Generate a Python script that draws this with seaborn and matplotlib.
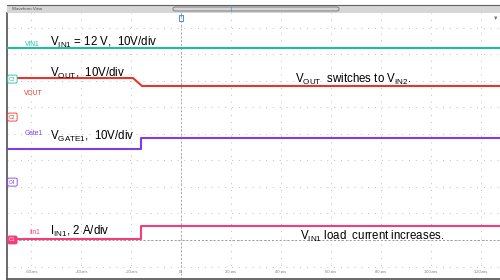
import matplotlib
matplotlib.use("Agg")
import matplotlib.pyplot as plt
import matplotlib.transforms as mtransforms
from matplotlib.patches import Rectangle, FancyBboxPatch
import seaborn as sns
import pandas as pd

# ---------------- data (time in ms, value in screen divisions) ----------------
vin1_t = [-69.6, 127.6]
vin1_v = [7.23, 7.23]

vout_t = [-69.6, -19.2, -15.6, 127.6]
vout_v = [6.10, 6.10, 5.80, 5.80]

gate1_t = [-69.6, -15.8, -15.8, 127.6]
gate1_v = [3.43, 3.43, 3.84, 3.84]

iin1_t = [-69.6, -15.8, -15.8, 127.6]
iin1_v = [0.02, 0.02, 0.53, 0.53]

x_ticks = [-60, -40, -20, 0, 20, 40, 60, 80, 100, 120]
x_tick_labels = ["-60 ms", "-40 ms", "-20 ms", "0s", "20 ms", "40 ms",
                 "60 ms", "80 ms", "100 ms", "120 ms"]
y_divs = [-1, 0, 1, 2, 3, 4, 5, 6, 7, 8]

channels = ["VIN1", "VOUT", "Gate1", "Iin1"]
colors = ["#1dbf9c", "#e8332e", "#7b3fe4", "#f03f7c"]

frames = []
for name, t, v in zip(channels, [vin1_t, vout_t, gate1_t, iin1_t],
                      [vin1_v, vout_v, gate1_v, iin1_v]):
    frames.append(pd.DataFrame({"t": t, "v": v, "ch": name}))
df = pd.concat(frames, ignore_index=True)

# ---------------- figure ----------------
sns.set_theme(style="white")
plt.rcParams["font.family"] = ["Liberation Sans", "DejaVu Sans"]
plt.rcParams["mathtext.fontset"] = "custom"
plt.rcParams["mathtext.rm"] = "Liberation Sans"

W, H = 500, 280
fig = plt.figure(figsize=(5, 2.8), dpi=100)
fig.patch.set_facecolor("white")
ax = fig.add_axes([7 / W, 1 - 279 / H, 493 / W, 266 / H])
ax.set_facecolor("white")

# grid
ax.set_xticks(x_ticks)
ax.set_yticks(y_divs)
ax.grid(True, which="major", color="#bdbdbd", linestyle=(0, (1, 6)), linewidth=0.7)
ax.tick_params(length=0, labelbottom=False, labelleft=False)

# zero-time dashed line and Iin1 reference line
ax.axvline(0, color="#a8a8a8", linestyle=(0, (2, 2)), linewidth=0.7, zorder=1)
ax.axhline(0, color="#9a9a9a", linestyle=(0, (2, 2)), linewidth=0.7, zorder=1)

sns.lineplot(data=df, x="t", y="v", hue="ch",
             palette=dict(zip(channels, colors)), sort=False, estimator=None,
             linewidth=1.5, legend=False, ax=ax, zorder=3)

ax.set_xlim(-69.6, 127.6)
ax.set_ylim(-1.47, 8.55)
ax.set_xlabel("")
ax.set_ylabel("")

for s in ["top", "right"]:
    ax.spines[s].set_visible(False)
for s in ["left", "bottom"]:
    ax.spines[s].set_color("#505050")
    ax.spines[s].set_linewidth(1.2)

# x tick labels inside the plot
tb = mtransforms.blended_transform_factory(ax.transData, ax.transAxes)
for xt, lab in zip(x_ticks, x_tick_labels):
    ax.text(xt, 0.02, lab, transform=tb, ha="center", va="bottom",
            fontsize=3, color="#808080")

# channel small labels
ty = mtransforms.blended_transform_factory(ax.transAxes, ax.transData)
ax.text(0.036, 7.38, "VIN1", transform=ty, fontsize=4.8, color=colors[0], va="center")
ax.text(0.034, 5.53, "VOUT", transform=ty, fontsize=4.8, color=colors[1], va="center")
ax.text(0.036, 4.0, "Gate1", transform=ty, fontsize=4.8, color=colors[2], va="center")
ax.text(0.046, 0.28, "Iin1", transform=ty, fontsize=4.8, color=colors[3], va="center")

# channel markers
marker_specs = [("C3", 6.06, colors[0], "white"),
                ("C2", 4.63, colors[1], "white"),
                ("C4", 2.18, colors[2], "white"),
                ("C1", 0.0, colors[3], colors[3])]
for lab, yv, ec, fc in marker_specs:
    ax.text(0.011, yv, lab, transform=ty, fontsize=3.6, ha="center", va="center",
            color=("white" if fc != "white" else ec),
            bbox=dict(boxstyle="round,pad=0.3", fc=fc, ec=ec, lw=0.6), zorder=5)

# annotations
ann = dict(fontsize=8.3, color="black", va="baseline", ha="left")
ax.text(-52.4, (240 - 46) / 26.55, r"$\mathregular{V_{IN1}}$ = 12 V,  10V/div", **ann)
ax.text(-52.4, (240 - 77) / 26.55, r"$\mathregular{V_{OUT}}$,  10V/div", **ann)
ax.text(45.6, (240 - 83) / 26.55, r"$\mathregular{V_{OUT}}$  switches to $\mathregular{V_{IN2}}$.", **ann)
ax.text(-52.4, (240 - 140) / 26.55, r"$\mathregular{V_{GATE1}}$,  10V/div", **ann)
ax.text(-52.4, (240 - 235) / 26.55, r"$\mathregular{I_{IN1}}$, 2 A/div", **ann)
ax.text(47.6, (240 - 240) / 26.55, r"$\mathregular{V_{IN1}}$ load  current increases.", **ann)

# header bar "Waveform View"
def px(x0, y0, w, h):
    return (x0 / W, 1 - (y0 + h) / H, w / W, h / H)

x0, y0, w, h = px(7, 5, 493, 8)
fig.patches.append(Rectangle((x0, y0), w, h, transform=fig.transFigure,
                             fc="#d6d6d6", ec="none", zorder=1))
fig.lines.append(plt.Line2D([7 / W, 1], [1 - 5 / H, 1 - 5 / H], transform=fig.transFigure,
                            color="#606060", lw=0.8))
fig.text(12 / W, 1 - 9 / H, "Waveform View", fontsize=3.2, color="#505050", va="center")
# slider
sx0, sy0, sw, sh = px(173, 7, 166, 4)
fig.patches.append(FancyBboxPatch((sx0, sy0), sw, sh, transform=fig.transFigure,
                                  boxstyle="round,pad=0,rounding_size=0.005",
                                  fc="none", ec="#707070", lw=0.6))
fig.text(231 / W, 1 - 9 / H, "|", fontsize=4, color="#3a7bd5", ha="center", va="center")
# trigger marker
fig.text(181 / W, 1 - 18 / H, "T", fontsize=3, color="#3a7bd5", ha="center", va="center",
         bbox=dict(boxstyle="square,pad=0.2", fc="white", ec="#3a7bd5", lw=0.6))
# top-right gray triangle
fig.text(496 / W, 1 - 18 / H, "\u25BC", fontsize=4, color="#707070", ha="center", va="center")

fig.savefig("out.png", dpi=100, facecolor="white")
